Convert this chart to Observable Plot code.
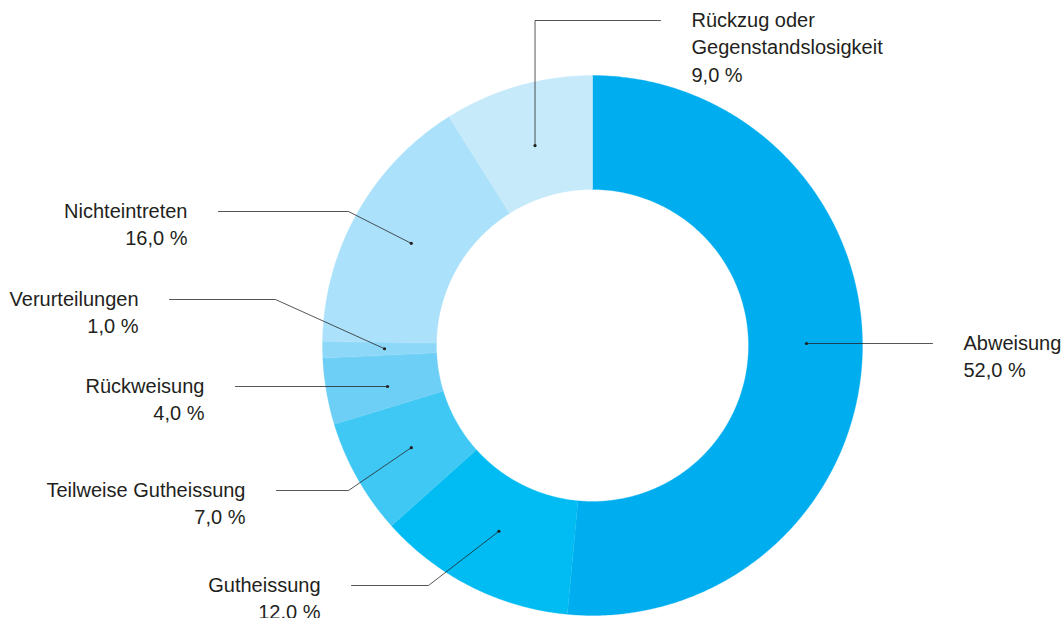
<!DOCTYPE html>
<html><head><meta charset="utf-8">
<script src="https://cdn.jsdelivr.net/npm/d3@7"></script>
<script src="https://cdn.jsdelivr.net/npm/@observablehq/plot@0.6"></script>
<style>body{margin:0;background:#fff;} #chart svg{display:block;}</style>
</head><body><div id="chart"></div>
<script>
// ---- data ----
const categories = ["Abweisung", "Gutheissung", "Teilweise Gutheissung", "Rückweisung", "Verurteilungen", "Nichteintreten", "Rückzug oder\nGegenstandslosigkeit"];
const values = [52, 12, 7, 4, 1, 16, 9];
const colors = ["#00aeef", "#00bcf2", "#40c8f4", "#6dcff6", "#8dd8f8", "#abe1fa", "#c7eafa"];

// ---- layout (pixel frame) ----
const W = 1062, H = 618;
const cx = 592, cy = 345, rOuter = 270, rInner = 156, rDot = 208;
const lineH = 27.4, textGap = 31;
// leader: optional elbow, end of horizontal stroke, label anchor side
const layout = [
  {dotAtY: true, rd: 214, y: 343, end: 932, anchor: "start"},
  {elbow: [428, 585], y: 585, end: 351, anchor: "end"},
  {elbow: [348, 490], y: 490, end: 276, anchor: "end"},
  {dotAtY: true, rd: 209, y: 386, end: 235, anchor: "end"},
  {elbow: [275, 299], y: 299, end: 169, anchor: "end"},
  {elbow: [348, 211], y: 211, end: 218, anchor: "end"},
  {vertical: true, y: 20, end: 660, anchor: "start"}
];

const fmt = v => v.toFixed(1).replace(".", ",") + " %";

const arcs = d3.pie().sort(null).value(d => d)(values);

// slice polygons
const slicePts = [];
arcs.forEach((a, i) => {
  const n = Math.max(4, Math.ceil((a.endAngle - a.startAngle) / 0.01));
  const pt = (r, t) => ({name: categories[i], color: colors[i], x: cx + r * Math.sin(t), y: cy - r * Math.cos(t)});
  for (let k = 0; k <= n; k++) slicePts.push(pt(rOuter, a.startAngle + (a.endAngle - a.startAngle) * k / n));
  for (let k = n; k >= 0; k--) slicePts.push(pt(rInner, a.startAngle + (a.endAngle - a.startAngle) * k / n));
});

// leaders, dots, texts
const dots = [], leaders = [], texts = [];
arcs.forEach((a, i) => {
  const L = layout[i];
  const mid = (a.startAngle + a.endAngle) / 2;
  let d;
  if (L.dotAtY) {
    const rd = L.rd || rDot;
    const dy = L.y - cy, dx = Math.sqrt(rd * rd - dy * dy);
    d = [cx + Math.sign(Math.sin(mid)) * dx, L.y];
  } else {
    d = [cx + rDot * Math.sin(mid), cy - rDot * Math.cos(mid)];
  }
  dots.push({x: d[0], y: d[1]});
  const path = [d];
  if (L.elbow) path.push(L.elbow);
  if (L.vertical) path.push([d[0], L.y]);
  path.push([L.end, L.y]);
  path.forEach(p => leaders.push({name: categories[i], x: p[0], y: p[1]}));
  const lines = categories[i].split("\n").concat([fmt(values[i])]);
  const tx = L.anchor === "start" ? L.end + textGap : L.end - textGap;
  lines.forEach((t, k) => texts.push({text: t, x: tx, y: L.y + k * lineH, anchor: L.anchor}));
});

const font = "'Liberation Sans', Arial, Helvetica, sans-serif";
const txtStart = texts.filter(t => t.anchor === "start");
const txtEnd = texts.filter(t => t.anchor === "end");

const chart = Plot.plot({
  width: W, height: H,
  margin: 0,
  style: {background: "#fff", overflow: "visible"},
  x: {domain: [0, W], range: [0, W], axis: null},
  y: {domain: [0, H], range: [0, H], axis: null},
  color: {type: "identity"},
  marks: [
    Plot.line(slicePts, {x: "x", y: "y", z: "name", fill: "color", stroke: "color", strokeWidth: 0.3, curve: "linear-closed"}),
    Plot.line(leaders, {x: "x", y: "y", z: "name", stroke: "#231f20", strokeWidth: 0.9, strokeOpacity: 0.85}),
    Plot.dot(dots, {x: "x", y: "y", r: 1.6, fill: "#231f20", stroke: "none"}),
    Plot.text(txtStart, {x: "x", y: "y", text: "text", textAnchor: "start", fontSize: 20, fontFamily: font, fill: "#231f20"}),
    Plot.text(txtEnd, {x: "x", y: "y", text: "text", textAnchor: "end", fontSize: 20, fontFamily: font, fill: "#231f20"})
  ]
});
document.getElementById("chart").appendChild(chart);
</script>
</body></html>
